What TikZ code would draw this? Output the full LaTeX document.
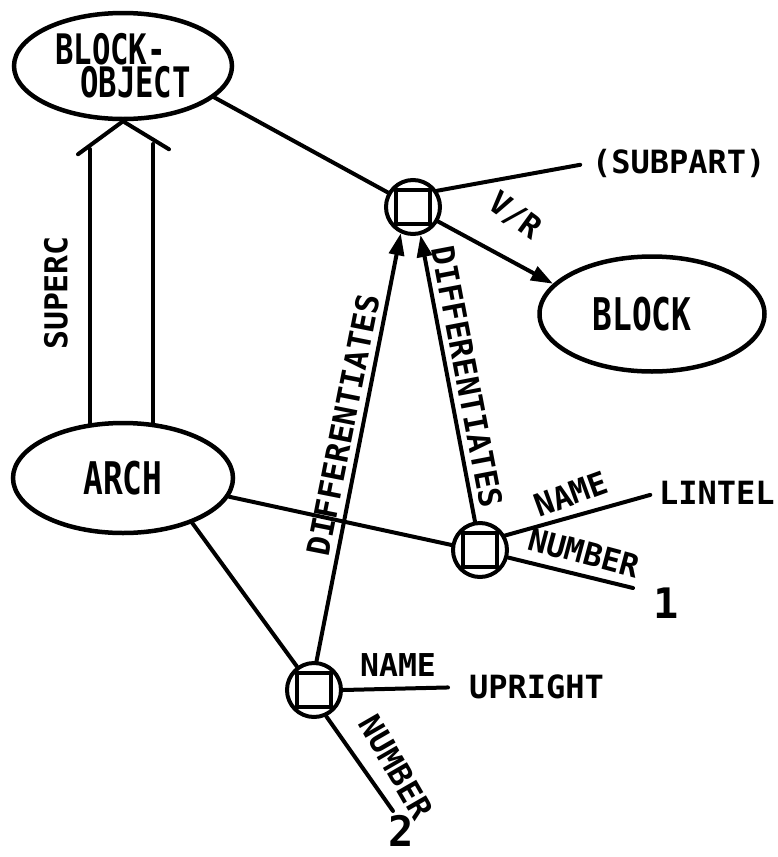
\documentclass[tikz,border=0pt]{standalone}
\usepackage{fontspec}
\newfontfamily\labfont{DejaVu Sans Mono}
\newfontfamily\bigfont{DejaVu Sans Mono}[FakeStretch=0.73]
\usetikzlibrary{shapes.geometric,arrows.meta}
\begin{document}
\begin{tikzpicture}[x=1pt,y=-1pt,line width=4pt,line cap=round,
  ell/.style={ellipse,draw,line width=4.5pt,inner sep=0pt,
    font=\bigfont\bfseries\fontsize{45}{45}\selectfont},
  rec/.style={circle,draw,line width=4pt,minimum size=54pt,inner sep=0pt,
    path picture={\draw[line width=3.5pt]
      ([shift={(-17pt,-17pt)}]path picture bounding box.center) rectangle ++(34pt,34pt);}},
  lab/.style={inner sep=0pt,font=\labfont\bfseries\fontsize{31.5}{32}\selectfont},
  val/.style={inner sep=0pt,font=\labfont\bfseries\fontsize{32}{32}\selectfont},
  num/.style={inner sep=0pt,font=\labfont\bfseries\fontsize{42}{42}\selectfont},
  arr/.style={-{Triangle[length=22pt,width=15pt]}}]
\useasboundingbox (0,0) rectangle (777,857);

% main concept nodes
\node[ell,minimum width=218pt,minimum height=106pt,align=left,
  font=\bigfont\bfseries\fontsize{42}{30}\selectfont] (bo) at (123,66)
  {BLOCK-\\\hspace*{25pt}OBJECT};
\node[ell,minimum width=220pt,minimum height=110pt] (arch) at (123,478) {ARCH};
\node[ell,minimum width=225pt,minimum height=115pt] (blk) at (652,314) {BLOCK\hspace*{20pt}};

% structure nodes
\node[rec] (T) at (413,207) {};
\node[rec] (L) at (480,550) {};
\node[rec] (U) at (314,690) {};

% values
\node[val,anchor=west] (sub) at (590,163) {(SUBPART)};
\node[val,anchor=west] (lin) at (657,493) {LINTEL};
\node[val,anchor=west] (upr) at (467,687) {UPRIGHT};
\node[num] (one) at (666,603) {1};
\node[num] (two) at (401,831) {2};
\coordinate (e1) at (633,588);
\coordinate (e2) at (393,811);

% labels
\node[lab,rotate=90] (sup) at (56,293) {SUPERC};
\node[lab,rotate=78.8] (dl) at (343,425) {DIFFERENTIATES};
\node[lab,rotate=-79.2] (dr) at (467,377) {DIFFERENTIATES};
\node[lab,rotate=-36] (vr) at (515,216) {V/R};
\node[lab,rotate=20] (ln) at (571,494) {NAME};
\node[lab,rotate=-15] (lnum) at (584,553) {NUMBER};
\node[lab] (un) at (398,665) {NAME};
\node[lab,rotate=-60] (unum) at (396,767) {NUMBER};

% SUPERC double arrow
\coordinate (apex) at (bo.south);
\coordinate (sl) at (90,149);
\coordinate (sr) at (153,144);
\draw[line join=miter] (apex) ++(-45,33) -- (apex) -- ++(46,28);
\draw (sl) -- (sl |- arch.122);
\draw (sr) -- (sr |- arch.60);

% connectors
\draw (bo.-19) -- (T.150);
\draw[shorten >=10pt] (T.34) -- (sub.west);
\draw[arr] (T.330) -- (blk.163);
\draw[arr] (U.85) -- (T.245);
\draw[arr] (L.100) -- (T.285);
\draw (arch.-10) -- (L.170);
\draw (arch.-33) -- (U.126);
\draw[shorten >=7pt] (L.30) -- (lin.west);
\draw (L.-15) -- (e1);
\draw[shorten >=19pt] (U.0) -- (upr.west);
\draw (U.-65) -- (e2);
\end{tikzpicture}
\end{document}
